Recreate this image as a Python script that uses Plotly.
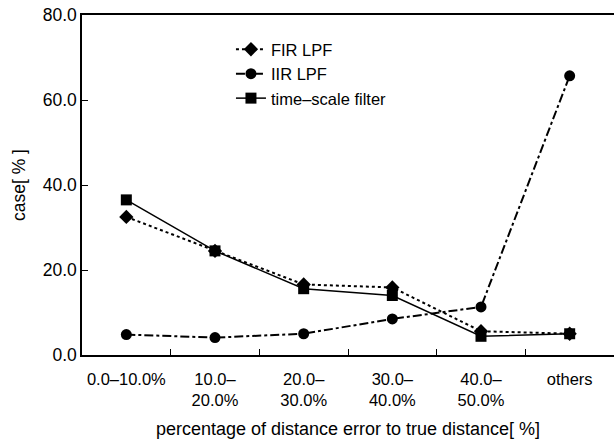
import plotly.graph_objects as go

categories = ["0.0–10.0%", "10.0–<br>20.0%", "20.0–<br>30.0%", "30.0–<br>40.0%", "40.0–<br>50.0%", "others"]
fir_lpf = [32.5, 24.5, 16.6, 15.9, 5.6, 5.0]
iir_lpf = [4.8, 4.1, 5.0, 8.5, 11.3, 65.7]
time_scale = [36.5, 24.5, 15.6, 14.0, 4.4, 5.0]

font_family = "Liberation Sans, Arial, sans-serif"

fig = go.Figure()
fig.add_trace(go.Scatter(
    x=categories, y=fir_lpf, name="FIR LPF", mode="lines+markers",
    line=dict(color="black", width=2, dash="dot"),
    marker=dict(symbol="diamond", size=11, color="black")))
fig.add_trace(go.Scatter(
    x=categories, y=iir_lpf, name="IIR LPF", mode="lines+markers",
    line=dict(color="black", width=2, dash="dashdot"),
    marker=dict(symbol="circle", size=11, color="black")))
fig.add_trace(go.Scatter(
    x=categories, y=time_scale, name="time–scale filter", mode="lines+markers",
    line=dict(color="black", width=1.5),
    marker=dict(symbol="square", size=11, color="black")))

fig.update_layout(
    width=614, height=447,
    margin=dict(l=82, r=0, t=15, b=92),
    paper_bgcolor="white", plot_bgcolor="white",
    font=dict(family=font_family, size=16, color="black"),
    showlegend=True,
    legend=dict(x=0.28, y=0.95, xanchor="left", yanchor="top",
                bgcolor="rgba(0,0,0,0)", font=dict(size=16.5, color="black"),
                tracegroupgap=0),
    xaxis=dict(
        type="category", range=[-0.5, 5.5], automargin=False,
        showline=True, linecolor="black", linewidth=1.5, mirror=True,
        ticks="inside", tickson="boundaries", ticklen=6, tickcolor="black",
        showgrid=False, zeroline=False, ticklabelstandoff=8, tickangle=0,
        title=dict(text="percentage of distance error to true distance[ %]", standoff=14,
                   font=dict(size=18, color="black")),
        tickfont=dict(size=16.5, color="black"),
    ),
    yaxis=dict(
        range=[0, 80], dtick=20, tickformat=".1f", automargin=False,
        showline=True, linecolor="black", linewidth=1.5,
        ticks="inside", ticklen=6, tickcolor="black",
        showgrid=False, zeroline=False,
        tickfont=dict(size=17.5, color="black"),
    ),
    annotations=[dict(
        text="case[ % ]", textangle=-90, xref="paper", yref="paper",
        x=0, y=0.5, xanchor="center", yanchor="middle", xshift=-63,
        showarrow=False, font=dict(size=17.5, color="black"))],
)

fig.write_html("out.html")
